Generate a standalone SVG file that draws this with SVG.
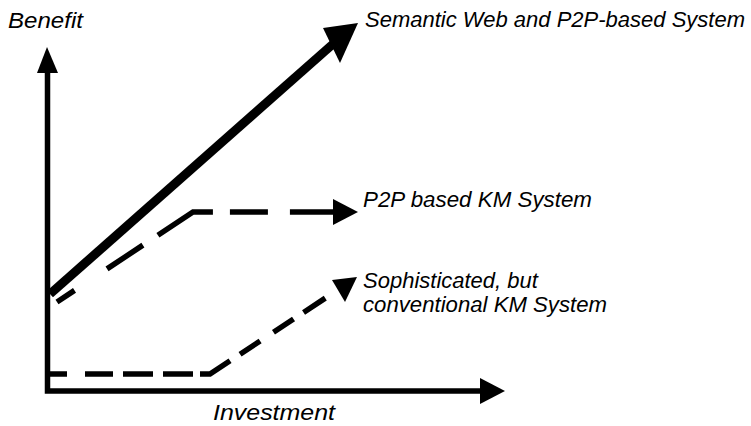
<svg xmlns="http://www.w3.org/2000/svg" width="751" height="426" viewBox="0 0 751 426">
  <style>
    .lbl { font-family: "Liberation Sans", Arial, sans-serif; font-style: italic; font-size: 22px; fill: #000; }
    .axis { fill: none; stroke: #000; stroke-width: 5.5; stroke-linejoin: miter; }
    .dash { fill: none; stroke: #000; stroke-width: 5.5; stroke-linecap: butt; }
    .head { fill: #000; }
  </style>
  <rect width="751" height="426" fill="#fff"/>

  <g id="axes">
    <path class="axis" d="M47.5,72 V391 H481"/>
    <polygon class="head" points="47,47 58,73 37,73"/>
    <polygon class="head" points="505,391 480,378 480,404"/>
    <text class="lbl" x="8" y="28" textLength="75" lengthAdjust="spacingAndGlyphs">Benefit</text>
    <text class="lbl" x="213" y="420" textLength="122" lengthAdjust="spacingAndGlyphs">Investment</text>
  </g>

  <g id="connectors">
    <!-- Semantic Web and P2P-based System: solid thick rise -->
    <line x1="50" y1="294" x2="333" y2="44" stroke="#000" stroke-width="9"/>
    <polygon class="head" points="323,28 358,23 340,63"/>
    <!-- P2P based KM System: dashed rise then plateau -->
    <path class="dash" d="M57,302 L193,212 H333" stroke-dasharray="21 39 43 18 62 17 38 22 45"/>
    <polygon class="head" points="358,212 333,199 333,225"/>
    <!-- Conventional KM System: flat then late dashed rise -->
    <path class="dash" d="M50,374 H210 L327,297" stroke-dasharray="17 18 28 10 30 10 30 7 34 12 24 16 24 12 26"/>
    <polygon class="head" points="332,280 357,277 345,302"/>
  </g>

  <g id="semantic-p2p">
    <text class="lbl" x="365" y="27" textLength="380" lengthAdjust="spacingAndGlyphs">Semantic Web and P2P-based System</text>
  </g>
  <g id="p2p-km">
    <text class="lbl" x="363" y="207" textLength="229" lengthAdjust="spacingAndGlyphs">P2P based KM System</text>
  </g>
  <g id="conventional-km">
    <text class="lbl" x="363" y="288">Sophisticated, but</text>
    <text class="lbl" x="363" y="312" textLength="244" lengthAdjust="spacingAndGlyphs">conventional KM System</text>
  </g>
</svg>
